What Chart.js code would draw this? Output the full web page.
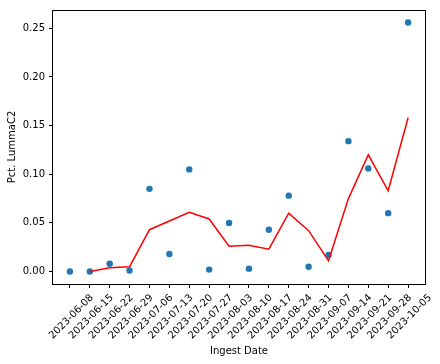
<!DOCTYPE html>
<html>
<head>
<meta charset="utf-8">
<script src="https://cdn.jsdelivr.net/npm/chart.js@4.4.0/dist/chart.umd.min.js"></script>
<style>
  body { margin: 0; background: #fff; }
  #wrap { width: 440px; height: 364px; }
</style>
</head>
<body>
<div id="wrap"><canvas id="chart" width="440" height="364"></canvas></div>
<script>
const dateLabels = [
    "2023-06-08", "2023-06-15", "2023-06-22", "2023-06-29", "2023-07-06", "2023-07-13",
    "2023-07-20", "2023-07-27", "2023-08-03", "2023-08-10", "2023-08-17", "2023-08-24",
    "2023-08-31", "2023-09-07", "2023-09-14", "2023-09-21", "2023-09-28", "2023-10-05"
];
// weekly share of LummaC2 (dots)
const pctValues = [0.000, 0.000, 0.008, 0.001, 0.085, 0.018, 0.105, 0.002, 0.050, 0.003,
                   0.043, 0.078, 0.005, 0.017, 0.134, 0.106, 0.060, 0.256];
// smoothed line (red), no value for the first week
const rollingValues = [null, 0.000, 0.004, 0.005, 0.043, 0.052, 0.061, 0.054, 0.026, 0.027,
                       0.023, 0.060, 0.042, 0.011, 0.075, 0.120, 0.083, 0.158];
const yTicks = [0.00, 0.05, 0.10, 0.15, 0.20, 0.25];

const font = { family: "'DejaVu Sans', sans-serif", size: 10 };

const framePlugin = {
    id: "frame",
    afterDraw(chart) {
        const { ctx, chartArea } = chart;
        ctx.save();
        ctx.strokeStyle = "#000";
        ctx.lineWidth = 1;
        ctx.strokeRect(Math.round(chartArea.left) - 0.5, Math.round(chartArea.top) + 0.5,
            Math.round(chartArea.right - chartArea.left) + 1, Math.round(chartArea.bottom - chartArea.top));
        ctx.restore();
    }
};

new Chart(document.getElementById("chart"), {
    type: "scatter",
    data: {
        datasets: [
            {
                type: "line",
                data: rollingValues.map((v, i) => ({ x: i, y: v })),
                borderColor: "red",
                borderWidth: 1.5,
                pointRadius: 0,
                tension: 0,
                fill: false,
                spanGaps: false,
                order: 0
            },
            {
                data: pctValues.map((v, i) => ({ x: i, y: v })),
                backgroundColor: "#1f77b4",
                borderColor: "#1f77b4",
                borderWidth: 0,
                pointRadius: 3.2,
                order: 1
            }
        ]
    },
    options: {
        responsive: false,
        animation: false,
        layout: { padding: { top: 7, right: 15, left: 0, bottom: 0 } },
        plugins: { legend: { display: false }, tooltip: { enabled: false } },
        scales: {
            x: {
                type: "linear",
                min: -0.85,
                max: 17.85,
                afterBuildTicks: (scale) => { scale.ticks = dateLabels.map((_, i) => ({ value: i })); },
                afterFit: (scale) => { scale.height = 80; },
                ticks: {
                    autoSkip: false,
                    minRotation: 45,
                    maxRotation: 45,
                    labelOffset: 22,
                    padding: 4,
                    color: "#000",
                    font: font,
                    callback: (v) => dateLabels[v]
                },
                grid: { drawOnChartArea: false, drawTicks: true, tickLength: 4, color: "#000" },
                border: { display: false },
                title: { display: true, text: "Ingest Date", color: "#000", font: font, padding: { top: 0, bottom: 7 } }
            },
            y: {
                min: -0.0128,
                max: 0.2688,
                afterBuildTicks: (scale) => { scale.ticks = yTicks.map((v) => ({ value: v })); },
                afterFit: (scale) => { scale.width = 53; },
                ticks: {
                    padding: 4,
                    color: "#000",
                    font: font,
                    callback: (v) => v.toFixed(2)
                },
                grid: { drawOnChartArea: false, drawTicks: true, tickLength: 4, color: "#000" },
                border: { display: false },
                title: { display: true, text: "Pct. LummaC2", color: "#000", font: font, padding: { top: 6.5, bottom: 0 } }
            }
        }
    },
    plugins: [framePlugin]
});
</script>
</body>
</html>
